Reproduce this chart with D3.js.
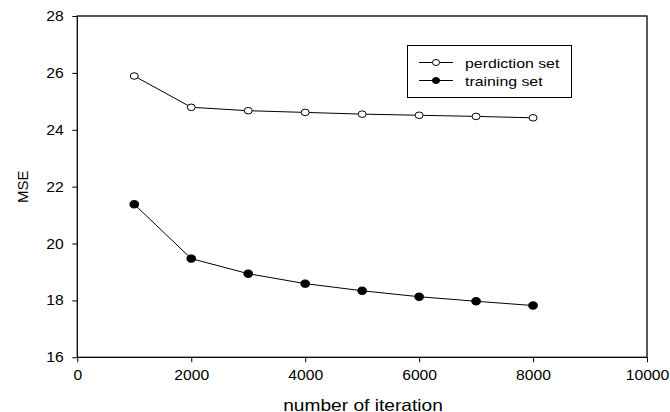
<!DOCTYPE html>
<html><head><meta charset="utf-8">
<script src="https://cdn.jsdelivr.net/npm/d3@7"></script>
<style>body{margin:0;background:#fff}svg{display:block}text{font-family:"Liberation Sans",Arial,sans-serif}</style>
</head><body>
<svg id="c" width="670" height="412"></svg>
<script>
const iterations = [1000,2000,3000,4000,5000,6000,7000,8000];
const predictionSet = [25.89,24.79,24.67,24.61,24.55,24.51,24.47,24.42];
const trainingSet = [21.38,19.47,18.94,18.59,18.34,18.13,17.97,17.82];
const xTicks = [0,2000,4000,6000,8000,10000];
const yTicks = [16,18,20,22,24,26,28];

const svg = d3.select("#c");
const L=77.3, R=647, T=16, B=357.3;
const x = d3.scaleLinear().domain([0,10000]).range([L,R]);
const y = d3.scaleLinear().domain([16,28]).range([B,T]);

function stretch(sel, sx){
  sel.each(function(){
    const w = this.getComputedTextLength();
    d3.select(this).attr("textLength", w*sx).attr("lengthAdjust","spacingAndGlyphs");
  });
}

svg.append("rect").attr("x",L).attr("y",T).attr("width",R-L).attr("height",B-T)
  .attr("fill","none").attr("stroke","#000").attr("stroke-width",1.3);

const xa = svg.append("g").attr("transform",`translate(0,${B})`)
  .call(d3.axisBottom(x).tickValues(xTicks).tickSize(5).tickPadding(8).tickFormat(d3.format("d")));
const ya = svg.append("g").attr("transform",`translate(${L},0)`)
  .call(d3.axisLeft(y).tickValues(yTicks).tickSize(5).tickPadding(8.5).tickFormat(d3.format("d")));
[xa,ya].forEach(a=>{
  a.select(".domain").remove();
  a.selectAll("line").attr("stroke","#000").attr("stroke-width",1);
  a.selectAll("text").attr("font-size",14).attr("fill","#000").style("font-family","Liberation Sans, Arial, sans-serif");
  stretch(a.selectAll("text"),1.12);
});

const xl = svg.append("text").attr("x",363).attr("y",410.5).attr("text-anchor","middle")
  .attr("font-size",16.5).text("number of iteration");
stretch(xl,1.16);
svg.append("text").attr("transform",`translate(27.5,${(T+B)/2}) rotate(-90)`).attr("text-anchor","middle")
  .attr("font-size",15).text("MSE");

const line = d3.line().x((d,i)=>x(iterations[i])).y(d=>y(d));
function series(vals, fill, rx, ry){
  svg.append("path").datum(vals).attr("d",line).attr("fill","none").attr("stroke","#000").attr("stroke-width",1);
  svg.selectAll(null).data(vals).enter().append("ellipse")
    .attr("cx",(d,i)=>x(iterations[i])).attr("cy",d=>y(d)).attr("rx",rx).attr("ry",ry)
    .attr("fill",fill).attr("stroke","#000").attr("stroke-width",1);
}
series(predictionSet,"#fff",4,3.3);
series(trainingSet,"#000",4.3,3.7);

const lg = svg.append("g");
lg.append("rect").attr("x",407.5).attr("y",45.5).attr("width",164).attr("height",52)
  .attr("fill","#fff").attr("stroke","#000").attr("stroke-width",1);
[["perdiction set","#fff",62.5],["training set","#000",80.5]].forEach(([t,f,yy])=>{
  lg.append("line").attr("x1",419).attr("x2",453).attr("y1",yy).attr("y2",yy).attr("stroke","#000");
  lg.append("ellipse").attr("cx",436).attr("cy",yy).attr("rx",3.6).attr("ry",3).attr("fill",f).attr("stroke","#000");
  const tx = lg.append("text").attr("x",465).attr("y",yy+5.5).attr("font-size",13).text(t);
  stretch(tx,1.22);
});
</script>
</body></html>
